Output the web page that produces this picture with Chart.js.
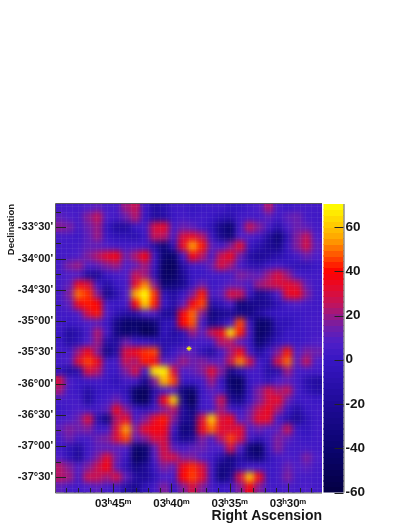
<!DOCTYPE html>
<html><head><meta charset="utf-8">
<style>html,body{margin:0;padding:0;background:#fff}canvas{position:absolute;left:0;top:0}</style>
<script src="https://cdn.jsdelivr.net/npm/chart.js@4"></script></head><body>
<canvas id="map" width="409" height="529"></canvas>
<canvas id="bar" width="409" height="529"></canvas>
<script>
const raLimits=[27.08,49.9], decLimits=[-37.743,-33.127], zLimits=[-60,70.4];
const raLabels={45:"03ʰ45ᵐ",40:"03ʰ40ᵐ",35:"03ʰ35ᵐ",30:"03ʰ30ᵐ"};
const raTicks=[28,29,30,31,32,33,34,35,36,37,38,39,40,41,42,43,44,45,46,47,48,49];
const decLabels={"-33.5":"-33°30'","-34":"-34°00'","-34.5":"-34°30'","-35":"-35°00'","-35.5":"-35°30'","-36":"-36°00'","-36.5":"-36°30'","-37":"-37°00'","-37.5":"-37°30'"};
const decTicks=[-33.25,-33.5,-33.75,-34,-34.25,-34.5,-34.75,-35,-35.25,-35.5,-35.75,-36,-36.25,-36.5,-36.75,-37,-37.25,-37.5];
const zTicks=[-60,-40,-20,0,20,40,60];
const starRA=[38.49], starDec=[-35.44];
const colorStops=[[-60,[4,0,66]],[-40,[10,4,110]],[-20,[30,10,150]],[0,[55,22,195]],[8,[78,30,200]],[15,[112,30,170]],[25,[190,20,95]],[32,[225,12,50]],[40,[255,0,0]],[55,[255,165,0]],[70,[255,255,0]]];
const cellValues=[
[3,5,4,8,11,5,5,21,27,3,-16,-10,3,3,-2,1,3,3,-3,-2,4,8,24,6,1,4,5,4],
[11,8,5,18,27,8,3,14,24,1,-16,-13,1,5,1,4,1,-6,-10,3,5,4,11,3,11,14,4,3],
[18,16,4,14,21,-2,-16,-16,1,5,30,33,5,14,11,3,-6,-27,-40,5,27,17,5,-10,8,14,11,5],
[5,4,1,11,21,1,-6,-6,-10,1,27,24,5,30,34,24,1,-24,-36,8,8,3,-16,-36,-6,17,27,8],
[4,4,5,11,11,8,4,4,5,4,-13,-34,-6,34,55,42,11,5,17,33,1,-10,-20,-27,1,17,30,11],
[4,5,8,17,24,33,38,14,24,38,3,-38,-42,5,38,24,5,27,36,14,-13,-20,-16,-10,-2,5,14,8],
[5,17,21,8,11,17,21,8,11,21,1,-44,-48,-13,4,4,14,30,21,5,-6,-10,1,5,-2,-6,-6,1],
[4,8,8,-16,-20,1,5,8,27,21,-6,-44,-44,-20,1,1,5,4,5,17,14,11,21,30,20,5,3,4],
[5,11,36,30,3,-13,1,5,33,52,17,-38,-34,-24,1,14,1,5,11,11,5,21,26,30,33,28,11,4],
[5,17,50,44,17,-24,-10,8,56,70,44,-6,-16,1,17,42,5,11,30,27,1,-24,-13,8,33,36,17,4],
[4,11,36,42,40,5,1,5,38,62,42,1,-13,11,38,46,-13,-6,8,-34,-27,-24,-20,-6,5,8,4,3],
[3,4,8,30,42,8,-6,-13,-13,8,8,-20,-20,38,50,17,-34,-24,-20,-27,-30,-16,-3,1,1,1,3,4],
[4,1,3,8,11,1,-27,-42,-42,-44,-34,-6,-6,40,48,5,-27,-13,4,46,1,-42,-38,-6,-6,1,4,5],
[1,-16,-10,5,24,5,-30,-42,-34,-52,-44,-3,-16,-6,21,11,27,36,66,42,5,-44,-34,-10,1,1,3,5],
[1,-13,-6,8,21,-13,-16,14,1,1,-6,-10,-10,-6,4,5,5,24,24,11,1,-38,-20,-3,3,1,4,8],
[5,4,21,36,17,-27,-13,30,36,44,46,-10,1,11,11,-6,-16,5,21,36,5,-16,1,17,42,8,17,14],
[5,8,33,46,36,5,5,27,21,42,36,11,11,21,14,17,11,11,27,52,30,4,-6,30,50,11,27,8],
[-3,-16,-10,30,24,3,1,17,30,5,66,68,30,8,11,17,33,17,-27,-10,5,4,-13,-10,21,5,5,4],
[30,8,1,3,5,1,-6,5,4,-24,17,58,46,1,1,5,21,1,-42,-44,1,4,-6,8,11,4,-10,-16],
[21,4,1,-13,-2,1,1,-6,-42,-48,-13,5,8,-34,-42,1,11,4,-34,-42,-2,17,30,21,27,5,-6,-13],
[5,5,5,-16,1,5,14,1,-42,-48,-6,36,62,-27,-52,3,8,27,-20,-27,1,17,30,33,14,1,4,1],
[1,4,8,5,5,11,36,17,1,-6,5,17,24,-16,-34,3,5,21,5,1,14,27,36,21,1,-13,1,4],
[5,8,14,30,-10,-30,24,33,5,17,33,42,17,-20,-27,30,62,30,36,8,17,33,33,5,-10,-20,-6,3],
[11,17,14,17,3,5,30,54,17,33,38,36,5,-34,-30,35,50,33,30,33,8,14,8,11,27,1,-3,4],
[5,14,5,5,14,17,30,46,11,17,30,30,-6,-24,-20,17,5,24,46,30,5,-6,5,17,11,3,1,4],
[4,-6,-16,3,11,11,11,8,-42,-38,11,30,11,5,11,14,8,8,30,8,-34,-44,1,17,5,4,5,4],
[8,-6,-20,5,17,32,14,1,-48,-38,8,27,30,17,17,8,3,-13,-30,-13,-27,-34,-6,4,8,5,17,8],
[24,17,8,17,27,38,11,-6,-30,-20,1,17,11,36,44,30,4,-30,-27,-6,5,4,1,4,14,8,11,5],
[24,21,5,27,27,21,30,11,-16,-20,-6,8,5,40,46,33,3,-34,-20,30,60,36,1,5,17,5,5,4],
[11,5,4,8,11,5,5,-13,-24,-6,4,17,1,17,30,17,5,1,4,17,38,17,4,4,8,4,8,4]
];
const raTitle='Right Ascension';
const font=s=>({family:"'Liberation Sans',Arial,sans-serif",weight:'bold',size:s});
const ink='#161616';
function colorOf(v){
  const s=colorStops; if(v<=s[0][0])return s[0][1].join(',');
  for(let i=1;i<s.length;i++){ if(v<=s[i][0]){const t=(v-s[i-1][0])/(s[i][0]-s[i-1][0]);
    return s[i-1][1].map((c,k)=>Math.round(c+(s[i][1][k]-c)*t)).join(',');}}
  return s[s.length-1][1].join(',');
}
function sprite(rgb,w,h){const c=document.createElement('canvas');c.width=w;c.height=h;const g=c.getContext('2d');g.fillStyle='rgb('+rgb+')';g.fillRect(0,0,w,h);return c;}
const nRows=cellValues.length,nCols=cellValues[0].length;
const cells=[];
cellValues.forEach((row,j)=>row.forEach((v,i)=>cells.push({
  x:raLimits[1]-(i+.5)*(raLimits[1]-raLimits[0])/nCols,
  y:decLimits[1]-(j+.5)*(decLimits[1]-decLimits[0])/nRows,v})));
const cellCache={};
const mapPlugin={id:'mapPlugin',
  afterDatasetDraw(chart,args){
    if(args.index!==1)return;
    const a=chart.chartArea,c=chart.ctx,W=a.right-a.left,H=a.bottom-a.top;
    c.save();c.beginPath();c.rect(a.left,a.top,W,H);c.clip();
    c.filter='blur(3px)';c.drawImage(chart.canvas,a.left,a.top,W,H,a.left,a.top,W,H);c.filter='none';
    c.strokeStyle='rgba(255,255,255,0.05)';c.lineWidth=1;c.beginPath();
    const xs=chart.scales.x,ys=chart.scales.y;
    for(let v=Math.ceil(raLimits[0]*2)/2;v<raLimits[1];v+=.5){const p=Math.round(xs.getPixelForValue(v))+.5;c.moveTo(p,a.top);c.lineTo(p,a.bottom);}
    for(let v=-37.75+1/12;v<decLimits[1];v+=1/12){const p=Math.round(ys.getPixelForValue(v))+.5;c.moveTo(a.left,p);c.lineTo(a.right,p);}
    c.stroke();c.restore();
  },
  afterDraw(chart){
    const a=chart.chartArea,c=chart.ctx,xs=chart.scales.x,ys=chart.scales.y;
    c.save();c.strokeStyle='#222';c.lineWidth=1;c.beginPath();
    xs.ticks.forEach(t=>{const p=Math.round(xs.getPixelForValue(t.value))+.5,L=raLabels[t.value]?9:4.5;c.moveTo(p,a.bottom);c.lineTo(p,a.bottom-L);});
    ys.ticks.forEach(t=>{const p=Math.round(ys.getPixelForValue(t.value))+.5,L=decLabels[String(t.value)]?10:5;c.moveTo(a.left,p);c.lineTo(a.left+L,p);});
    c.stroke();
    c.strokeStyle='#5a5a5a';c.beginPath();
    c.moveTo(a.left-.5,a.top-.5);c.lineTo(a.right,a.top-.5);c.moveTo(a.left-.5,a.top-.5);c.lineTo(a.left-.5,a.bottom+.5);c.lineTo(a.right,a.bottom+.5);c.stroke();
    c.fillStyle=ink;c.font="bold 14px 'Liberation Sans',Arial,sans-serif";c.textAlign='right';c.textBaseline='middle';
    c.fillText(raTitle,a.right,516);
    c.restore();
  }};
new Chart(document.getElementById('map'),{type:'scatter',
 data:{datasets:[
  {label:'Source',data:starRA.map((x,i)=>({x,y:starDec[i]})),pointStyle:'star',pointRadius:2.5,borderColor:'#ffff00',backgroundColor:'#ffff00',borderWidth:1},
  {label:'Map',data:cells,pointRadius:6,pointBorderWidth:0,borderWidth:0,
   pointStyle(ctx){const r=ctx.raw;if(!r)return 'rect';const k=colorOf(r.v);const a=ctx.chart.chartArea;
     const w=Math.ceil(a?(a.right-a.left)/nCols:10)+2,h=Math.ceil(a?(a.bottom-a.top)/nRows:10)+2;
     const key=k+'|'+w+'|'+h;return cellCache[key]||(cellCache[key]=sprite(k,w,h));}}
 ]},
 options:{responsive:false,animation:false,events:[],
  layout:{padding:{left:0,top:204,right:87,bottom:0}},
  plugins:{legend:{display:false},tooltip:{enabled:false}},
  scales:{
   x:{type:'linear',reverse:true,min:raLimits[0],max:raLimits[1],grid:{display:false,drawTicks:false},border:{display:false},
      afterBuildTicks:s=>{s.ticks=raTicks.map(value=>({value}));},afterFit:s=>{s.height=36.5;},
      ticks:{autoSkip:false,maxRotation:0,minRotation:0,padding:4,color:ink,font:font(11.5),callback:v=>raLabels[v]||''}},
   y:{type:'linear',min:decLimits[0],max:decLimits[1],grid:{display:false,drawTicks:false},border:{display:false},
      afterBuildTicks:s=>{s.ticks=decTicks.map(value=>({value}));},afterFit:s=>{s.width=56;},
      ticks:{autoSkip:false,padding:3,color:ink,font:font(11),callback:v=>decLabels[String(v)]||''},
      title:{display:true,text:'Declination',align:'end',color:ink,font:font(9.5),padding:{top:6,bottom:0}}}
  }},
 plugins:[mapPlugin]});

const levels=[];for(let i=0;i<50;i++)levels.push({x:.5,y:zLimits[0]+(i+.5)*(zLimits[1]-zLimits[0])/50});
const barPlugin={id:'barPlugin',afterDraw(chart){
  const a=chart.chartArea,c=chart.ctx,ys=chart.scales.y;
  c.save();c.strokeStyle='#222';c.lineWidth=1;c.beginPath();
  zTicks.forEach(v=>{const p=Math.round(ys.getPixelForValue(v))+.5;c.moveTo(a.right,p);c.lineTo(a.right-9,p);});c.stroke();
  c.strokeStyle='#5a5a5a';c.beginPath();c.moveTo(a.right+.5,a.top);c.lineTo(a.right+.5,a.bottom);c.stroke();c.restore();
}};
const barCache={};
new Chart(document.getElementById('bar'),{type:'scatter',
 data:{datasets:[{label:'Scale',data:levels,pointRadius:6,borderWidth:0,
   pointStyle(ctx){const r=ctx.raw;if(!r)return 'rect';const k=colorOf(r.y);return barCache[k]||(barCache[k]=sprite(k,22,7));}}]},
 options:{responsive:false,animation:false,events:[],
  layout:{padding:{left:323.5,top:204,right:0,bottom:36.5}},
  plugins:{legend:{display:false},tooltip:{enabled:false}},
  scales:{
   x:{type:'linear',min:0,max:1,display:false},
   y:{type:'linear',position:'right',min:zLimits[0],max:zLimits[1],grid:{display:false,drawTicks:false},border:{display:false},
      afterBuildTicks:s=>{s.ticks=zTicks.map(value=>({value}));},afterFit:s=>{s.width=65.5;},
      ticks:{padding:2,color:ink,font:font(13.5),autoSkip:false}}
  }},
 plugins:[barPlugin]});
</script></body></html>
